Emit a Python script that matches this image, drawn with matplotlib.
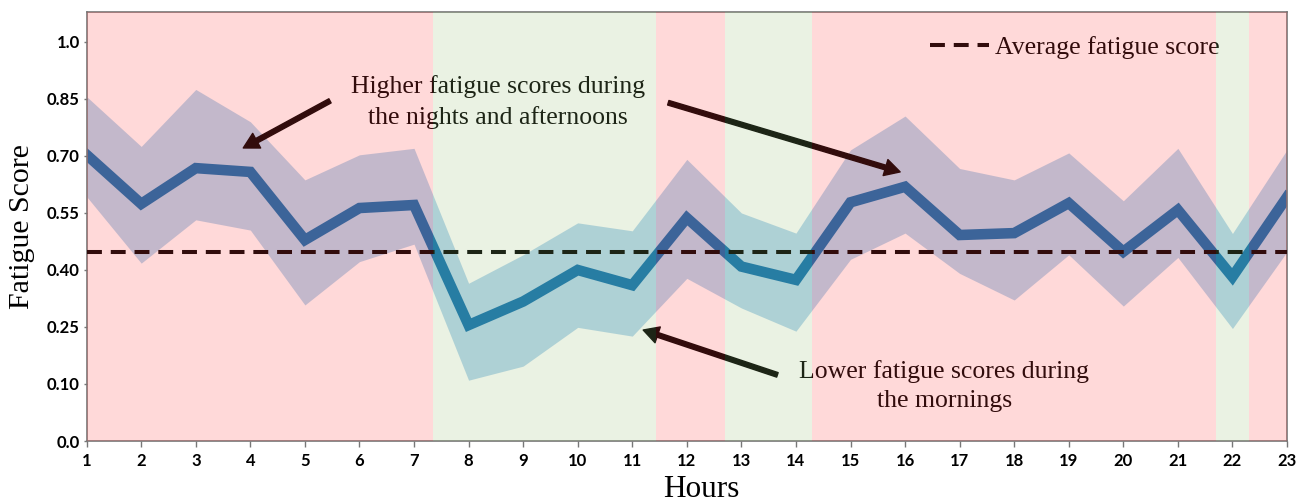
import matplotlib
matplotlib.use('Agg')
import matplotlib.pyplot as plt
import numpy as np

hours = list(range(1, 24))
fatigue = [0.703, 0.574, 0.668, 0.658, 0.479, 0.563, 0.571, 0.255, 0.317, 0.400, 0.360, 0.537,
           0.409, 0.374, 0.578, 0.619, 0.492, 0.497, 0.576, 0.448, 0.558, 0.382, 0.592]
upper = [0.856, 0.725, 0.875, 0.790, 0.637, 0.703, 0.720, 0.365, 0.440, 0.524, 0.503, 0.691,
         0.550, 0.497, 0.716, 0.805, 0.667, 0.637, 0.708, 0.582, 0.720, 0.496, 0.716]
lower = [0.593, 0.418, 0.532, 0.505, 0.308, 0.422, 0.468, 0.110, 0.147, 0.249, 0.226, 0.378,
         0.300, 0.239, 0.428, 0.497, 0.391, 0.321, 0.440, 0.305, 0.433, 0.246, 0.448]
average_score = 0.447

# morning periods (green); everything else is night/afternoon (red)
morning_spans = [(7.35, 11.43), (12.70, 14.30), (21.70, 22.30)]

ytick_pos = [-0.05, 0.10, 0.25, 0.40, 0.55, 0.70, 0.85, 1.00]
ytick_labels = ['0.0', '0.10', '0.25', '0.40', '0.55', '0.70', '0.85', '1.0']

serif = 'Liberation Serif'
tick_font = 'Lato'

fig = plt.figure(figsize=(13.07, 5.04), dpi=100)
ax = fig.add_axes([0.0663, 0.125, 0.9184, 0.8506])

ax.fill_between(hours, lower, upper, color='#b5d6ee', lw=0, zorder=1)
ax.plot(hours, fatigue, color='#0c6daf', lw=7.6, solid_joinstyle='miter', zorder=2)
ax.axhline(average_score, color='black', lw=2.9, ls=(0, (3.7, 2.2)), zorder=3,
           label='Average fatigue score')

arrow = dict(facecolor='black', edgecolor='black', width=3.4, headwidth=12, headlength=11)
ax.annotate('', xy=(3.87, 0.721), xytext=(5.46, 0.845), arrowprops=arrow, zorder=4)
ax.annotate('', xy=(15.91, 0.658), xytext=(11.66, 0.840), arrowprops=arrow, zorder=4)
ax.annotate('', xy=(11.20, 0.242), xytext=(13.66, 0.124), arrowprops=arrow, zorder=4)

ax.text(8.54, 0.842, 'Higher fatigue scores during\nthe nights and afternoons',
        ha='center', va='center', fontsize=18.5, family=serif, linespacing=1.42, zorder=4)
ax.text(16.72, 0.095, 'Lower fatigue scores during\nthe mornings',
        ha='center', va='center', fontsize=18.5, family=serif, linespacing=1.38, zorder=4)

leg = ax.legend(loc='upper right', bbox_to_anchor=(0.9435, 0.944), frameon=False,
                prop={'family': serif, 'size': 18.5}, handlelength=2.3, handletextpad=0.2,
                borderpad=0, borderaxespad=0)
leg.set_zorder(4)

# translucent day-period shading laid over everything in the plot area
edges = [1]
for a, b in morning_spans:
    edges += [a, b]
edges.append(23)
for i in range(len(edges) - 1):
    if i % 2 == 0:
        ax.axvspan(edges[i], edges[i + 1], color=(1.0, 0.255, 0.255), alpha=0.2, lw=0, zorder=10)
    else:
        ax.axvspan(edges[i], edges[i + 1], color=(0.588, 0.745, 0.451), alpha=0.2, lw=0, zorder=10)

ax.set_xlim(1, 23)
ax.set_ylim(-0.05, 1.078)
ax.set_xticks(hours)
ax.set_yticks(ytick_pos)
ax.set_yticklabels(ytick_labels)

for lbl in ax.get_xticklabels() + ax.get_yticklabels():
    lbl.set_family(tick_font)
    lbl.set_fontweight('bold')
    lbl.set_fontsize(12)
ax.tick_params(axis='x', length=4.5, width=1, color='#777777', pad=4)
ax.tick_params(axis='y', length=2, width=1, color='#777777', pad=3)
for s in ax.spines.values():
    s.set_color('#777777')
    s.set_linewidth(1.2)

ax.set_ylabel('Fatigue Score', family=serif, fontsize=21.5)
ax.yaxis.set_label_coords(-0.043, 0.5)
ax.set_xlabel('Hours', family=serif, fontsize=22.5)
ax.xaxis.set_label_coords(0.512, -0.079)

plt.savefig('out.png', dpi=100)
plt.close()
